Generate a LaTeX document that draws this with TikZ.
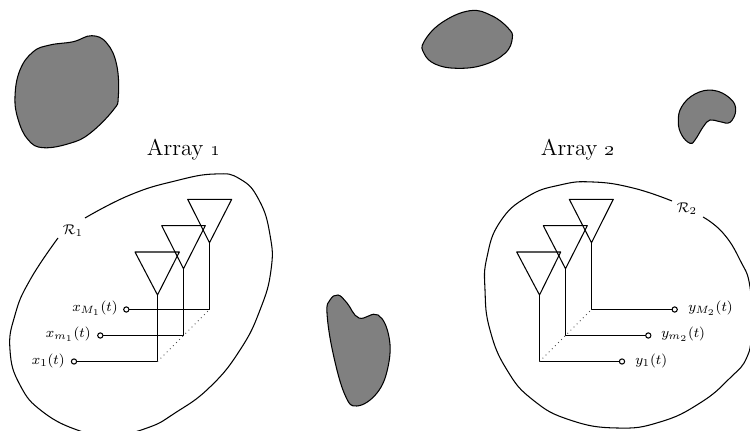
\documentclass[tikz,border=0pt]{standalone}
\begin{document}
\begin{tikzpicture}[x=0.02cm,y=-0.02cm,line join=round,
  blob/.style={draw=black,fill=black!50,line width=0.6pt},
  region/.style={draw=black,line width=0.6pt},
  wire/.style={draw=black,line width=0.6pt},
  antenna/.style={draw=black,line width=0.6pt},
  term/.style={circle,draw=black,fill=white,line width=0.6pt,minimum size=0.105cm,inner sep=0pt},
  sig/.style={inner sep=0pt,font=\fontsize{8.3}{10}\selectfont},
  arr/.style={inner sep=0pt,font=\fontsize{13}{14}\selectfont}]
\useasboundingbox (0,0) rectangle (750,431);
\clip (0,0) rectangle (750,431);
% scatterers
\draw[blob] plot[smooth cycle,tension=0.7] coordinates {(91.7,35.7)(106.7,43)(116.7,65)(118.3,96.7)(113.3,110)(90,133.3)(70,143.3)(43.3,147.7)(28.3,140)(18.3,120)(15,96.7)(20,70)(33.3,51.7)(50,45)(73.3,41.7)};
\draw[blob] plot[smooth cycle,tension=0.7] coordinates {(470,10.7)(491.7,15.7)(508.3,28.3)(512.3,38.3)(505,53.3)(483.3,65)(456.7,68.3)(435,64)(424,53.3)(424,41.7)(441.7,22.7)};
\draw[blob] plot[smooth cycle,tension=0.7] coordinates {(713.3,90.3)(730,98.3)(735.7,110)(730,122.3)(720,121.7)(710,120)(703.3,126.7)(695,140)(690,143.3)(681.7,135)(678.3,121.7)(681.7,106.7)(695,94)};
\draw[blob] plot[smooth cycle,tension=0.7] coordinates {(338,295)(347,303)(359,318)(378,315)(389,337)(388,367)(377,393)(357,406)(345,395)(333,353)(327,313)(330,300)};
% regions
\draw[region] plot[smooth,tension=0.8] coordinates {(85,218)(130,195)(175,181)(215,174)(240,179)(259,200)(270,235)(271,270)(260,310)(240,350)(210,387)(175,413)(147,428)(110,436)(80,431)(43,412)(20,385)(10,350)(15,315)(30,280)(58,238)};
\draw[region] plot[smooth,tension=0.8] coordinates {(672,201)(633,188)(593,182)(560,185)(527,197)(500,222)(487,257)(485,290)(490,330)(507,370)(533,400)(570,420)(617,428)(660,422)(700,403)(730,378)(747,357)(751,330)(750,287)(740,260)(723,233)(703,217)};
\node[inner sep=0pt,font=\fontsize{8.5}{10}\selectfont] (r1) at (73,231) {$\mathcal{R}_1$};
\node[inner sep=0pt,font=\fontsize{8.5}{10}\selectfont] (r2) at (687,209) {$\mathcal{R}_2$};
\node[arr] (a1) at (184,150) {Array \oldstylenums{1}};
\node[arr] (a2) at (578,150) {Array \oldstylenums{2}};
% array 1
\coordinate (a1p1) at (157.5,295);
\coordinate (a1p2) at (183.5,268.7);
\coordinate (a1p3) at (209.5,242.7);
\draw[antenna] (135,252) -- (179.3,252) -- (a1p1) -- cycle;
\draw[antenna] (161.7,225.7) -- (205.3,225.7) -- (a1p2) -- cycle;
\draw[antenna] (187.7,199.3) -- (231.7,199.3) -- (a1p3) -- cycle;
\node[term] (x1) at (74,361.5) {};
\node[term] (x2) at (100.3,335.5) {};
\node[term] (x3) at (126.3,309.5) {};
\draw[wire] (a1p1) |- (x1);
\draw[wire] (a1p2) |- (x2);
\draw[wire] (a1p3) |- (x3);
\coordinate (c1) at (a1p1 |- x1);
\coordinate (c3) at (a1p3 |- x3);
\draw[dotted,line width=0.5pt,black!70] (c1) -- (c3);
\node[sig,anchor=east] (lx1) at (65,361) {$x_1(t)$};
\node[sig,anchor=east] (lx2) at (91,334) {$x_{m_1}(t)$};
\node[sig,anchor=east] (lx3) at (118,308) {$x_{M_1}(t)$};
% array 2
\coordinate (a2p1) at (539.5,295);
\coordinate (a2p2) at (565.5,268.7);
\coordinate (a2p3) at (591.5,242.7);
\draw[antenna] (516.7,252) -- (560.7,252) -- (a2p1) -- cycle;
\draw[antenna] (543.3,225.7) -- (587.3,225.7) -- (a2p2) -- cycle;
\draw[antenna] (569.3,199.3) -- (613.3,199.3) -- (a2p3) -- cycle;
\node[term] (y1) at (622,361.5) {};
\node[term] (y2) at (648.3,335.5) {};
\node[term] (y3) at (674.7,309.5) {};
\draw[wire] (a2p1) |- (y1);
\draw[wire] (a2p2) |- (y2);
\draw[wire] (a2p3) |- (y3);
\coordinate (d1) at (a2p1 |- y1);
\coordinate (d3) at (a2p3 |- y3);
\draw[dotted,line width=0.5pt,black!70] (d1) -- (d3);
\node[sig,anchor=west] (ly1) at (635,361) {$y_1(t)$};
\node[sig,anchor=west] (ly2) at (661,334) {$y_{m_2}(t)$};
\node[sig,anchor=west] (ly3) at (688,308) {$y_{M_2}(t)$};
\end{tikzpicture}
\end{document}
